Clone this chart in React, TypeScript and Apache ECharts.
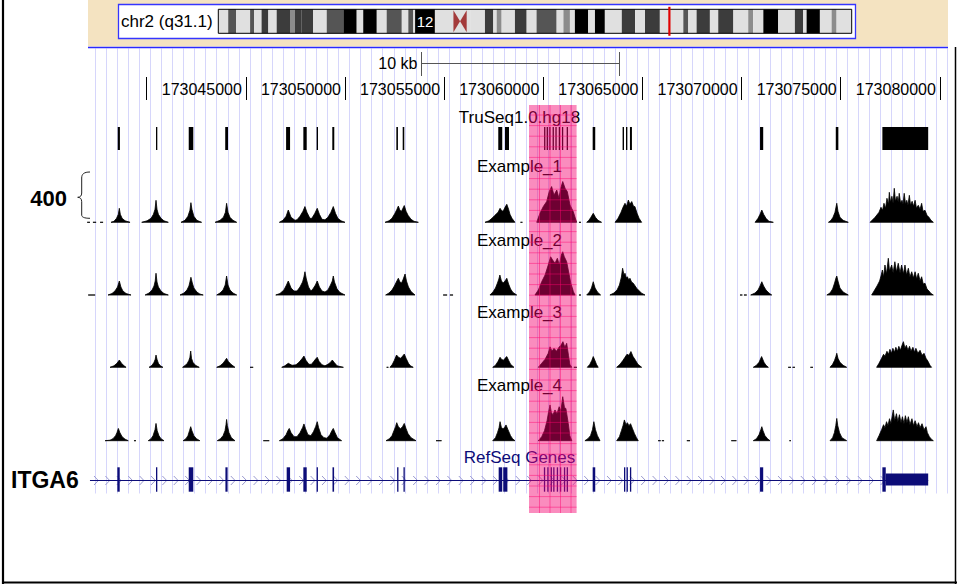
import React, { useEffect, useRef } from "react";
import * as echarts from "echarts";

const FONT = "'Liberation Sans', Arial, Helvetica, sans-serif";

// ---------------- genome view (kb offset from chr2:173,000,000) ----------------
const BASE_BP = 173000000;
const viewRangeKb = [37.0, 80.5];
const rulerTickKb = [40, 45, 50, 55, 60, 65, 70, 75, 80];
const rulerLabelKb = [45, 50, 55, 60, 65, 70, 75, 80];
const scaleBarKb = [53.83, 63.83];
const scaleBarText = "10 kb";
const highlightKb = [59.28, 61.68];
const trackTitles = ["TruSeq1.0.hg18", "Example_1", "Example_2", "Example_3", "Example_4", "RefSeq Genes"];
const signalScaleMax = 400;
const signalScaleLabel = "400";
const geneName = "ITGA6";

// ---------------- chromosome ideogram (Mb) ----------------
const chromLabel = "chr2 (q31.1)";
const chromLengthMb = 243;
// [start, end, shade 0=light 1=mid 2=dark 3=darker 4=black]
const chromBands: [number, number, number][] = [
  [0, 3.8, 0], [3.8, 6.8, 2], [6.8, 12.2, 0], [12.2, 13.7, 2], [13.7, 16.6, 0],
  [16.6, 19.2, 3], [19.2, 22.4, 0], [22.4, 27.5, 3], [27.5, 29.4, 1], [29.4, 32.0, 3],
  [32.0, 36.4, 3], [36.4, 41.6, 0], [41.6, 48.0, 2], [48.0, 53.1, 4], [53.1, 55.6, 0],
  [55.6, 60.8, 4], [60.8, 64.6, 0], [64.6, 70.4, 2], [70.4, 72.9, 0], [72.9, 74.8, 2],
  [74.8, 75.5, 0], [75.5, 83.1, 4], [83.1, 96.6, 0], [96.6, 102.3, 0], [102.3, 105.5, 3],
  [105.5, 106.8, 0], [106.8, 108.7, 1], [108.7, 113.8, 0], [113.8, 118.3, 3], [118.3, 122.1, 0],
  [122.1, 129.8, 2], [129.8, 132.4, 0], [132.4, 134.9, 1], [134.9, 136.8, 0], [136.8, 141.9, 4],
  [141.9, 144.5, 0], [144.5, 148.3, 4], [148.3, 154.8, 0], [154.8, 159.9, 3], [159.9, 163.7, 0],
  [163.7, 169.4, 3], [169.4, 178.4, 0], [178.4, 180.3, 2], [180.3, 183.5, 0], [183.5, 188.6, 3],
  [188.6, 191.8, 0], [191.8, 197.6, 3], [197.6, 203.3, 0], [203.3, 205.2, 1], [205.2, 209.1, 0],
  [209.1, 214.8, 4], [214.8, 221.2, 0], [221.2, 224.4, 3], [224.4, 225.7, 0], [225.7, 230.8, 4],
  [230.8, 235.3, 0], [235.3, 237.2, 1], [237.2, 243, 0],
];
const centromereMb = [90.2, 95.3];
const currentPosMb = 173.06;
const bandNameLabel = { text: "12", startMb: 75.5, endMb: 83.1 };

// ---------------- target regions / gene model (kb) ----------------
const truSeqTargets: [number, number][] = [
  [38.54, 38.65], [40.47, 40.53], [42.12, 42.35], [43.96, 44.10], [47.03, 47.23], [47.90, 48.07],
  [48.57, 48.64], [49.36, 49.46], [52.59, 52.67], [52.91, 52.99], [57.73, 57.93], [58.07, 58.27],
  [60.04, 60.10], [60.17, 60.23], [60.30, 60.36], [60.47, 60.53], [60.61, 60.67], [60.78, 60.84],
  [60.94, 61.00], [61.18, 61.24], [62.49, 62.62], [64.00, 64.07], [64.17, 64.24], [64.37, 64.47],
  [70.93, 71.09], [74.75, 74.88], [77.10, 79.41],
];
const geneSpanKb: [number, number] = [37.14, 79.41];
const refSeqExons: [number, number][] = [
  [38.52, 38.64], [40.47, 40.53], [42.12, 42.35], [43.97, 44.08], [47.06, 47.23], [47.90, 48.07],
  [48.57, 48.63], [49.37, 49.45], [52.63, 52.69], [52.95, 53.01], [57.75, 57.93], [57.98, 58.19],
  [60.03, 60.09], [60.20, 60.26], [60.37, 60.43], [60.50, 60.56], [60.68, 60.74], [60.84, 60.90],
  [61.04, 61.10], [61.18, 61.24], [62.49, 62.62], [64.07, 64.13], [64.20, 64.26], [64.37, 64.43],
  [70.93, 71.09], [77.10, 77.27],
];
const refSeqUtr: [number, number][] = [[77.27, 79.41]];

// ---------------- coverage tracks: segments of [kb, reads] ----------------
type Seg = [number, number][];
const example1: Seg[] = [
  [[37.00, 0], [37.14, 0]],
  [[37.29, 0], [37.45, 0]],
  [[37.65, 0], [37.80, 0]],
  [[38.20, 0], [38.35, 8], [38.48, 32], [38.57, 64], [38.62, 112], [38.67, 64], [38.76, 32], [38.91, 12], [39.16, 0]],
  [[39.75, 0], [40.02, 12], [40.22, 32], [40.34, 64], [40.42, 104], [40.47, 176], [40.52, 104], [40.59, 64], [40.72, 32], [40.87, 12], [41.09, 0]],
  [[41.73, 0], [41.93, 16], [42.08, 48], [42.18, 96], [42.23, 157], [42.28, 104], [42.38, 48], [42.53, 16], [42.77, 0]],
  [[43.45, 0], [43.70, 16], [43.87, 40], [43.97, 80], [44.03, 152], [44.10, 80], [44.20, 40], [44.35, 16], [44.54, 0]],
  [[46.69, 0], [46.87, 16], [47.03, 48], [47.14, 98], [47.28, 40], [47.48, 16], [47.58, 20], [47.73, 48], [47.88, 88], [47.98, 126], [48.08, 80], [48.23, 32], [48.33, 32], [48.48, 72], [48.60, 112], [48.71, 64], [48.84, 24], [48.99, 20], [49.14, 40], [49.29, 80], [49.41, 126], [49.52, 72], [49.64, 32], [49.80, 12], [50.00, 0]],
  [[52.02, 0], [52.22, 12], [52.37, 32], [52.52, 72], [52.62, 104], [52.69, 130], [52.77, 96], [52.85, 88], [52.92, 112], [52.99, 134], [53.08, 88], [53.18, 56], [53.33, 24], [53.48, 8], [53.70, 0]],
  [[57.06, 0], [57.26, 12], [57.41, 32], [57.56, 56], [57.72, 80], [57.82, 112], [57.92, 88], [58.00, 96], [58.07, 120], [58.16, 144], [58.25, 104], [58.32, 64], [58.42, 32], [58.57, 0]],
  [[58.85, 0], [58.95, 0]],
  [[59.67, 0], [59.83, 72], [60.00, 126], [60.17, 166], [60.30, 246], [60.42, 286], [60.54, 218], [60.68, 258], [60.79, 192], [60.88, 272], [60.98, 326], [61.10, 272], [61.21, 246], [61.35, 138], [61.51, 86], [61.68, 0]],
  [[61.80, 0], [61.90, 0]],
  [[62.19, 0], [62.30, 16], [62.40, 40], [62.52, 72], [62.63, 40], [62.76, 16], [62.94, 0]],
  [[63.62, 0], [63.77, 32], [63.92, 80], [64.02, 120], [64.12, 152], [64.20, 128], [64.29, 178], [64.37, 144], [64.46, 166], [64.55, 128], [64.62, 126], [64.73, 72], [64.83, 32], [64.96, 0]],
  [[70.68, 0], [70.83, 32], [70.93, 64], [71.02, 98], [71.11, 64], [71.23, 32], [71.38, 8], [71.60, 0]],
  [[74.38, 0], [74.51, 16], [74.61, 40], [74.71, 80], [74.80, 152], [74.86, 88], [74.96, 40], [75.12, 16], [75.38, 0]],
  [[76.48, 0], [76.73, 40], [76.93, 80], [77.03, 120], [77.11, 96], [77.18, 152], [77.26, 112], [77.33, 192], [77.41, 144], [77.45, 240], [77.51, 160], [77.58, 208], [77.64, 152], [77.70, 272], [77.76, 168], [77.84, 208], [77.90, 160], [77.95, 232], [78.02, 152], [78.09, 176], [78.14, 144], [78.20, 232], [78.27, 144], [78.33, 176], [78.39, 136], [78.46, 216], [78.52, 136], [78.60, 168], [78.67, 128], [78.75, 176], [78.82, 112], [78.91, 136], [79.00, 104], [79.08, 152], [79.15, 88], [79.25, 96], [79.35, 56], [79.45, 40], [79.55, 16], [79.67, 0]],
];
const example2: Seg[] = [
  [[37.05, 0], [37.40, 0]],
  [[38.05, 0], [38.25, 12], [38.40, 32], [38.53, 64], [38.62, 112], [38.70, 64], [38.80, 32], [38.96, 12], [39.21, 0]],
  [[39.92, 0], [40.12, 16], [40.27, 40], [40.37, 72], [40.43, 112], [40.47, 174], [40.52, 104], [40.59, 64], [40.72, 32], [40.87, 12], [41.09, 0]],
  [[41.68, 0], [41.88, 16], [42.03, 40], [42.13, 72], [42.18, 104], [42.23, 142], [42.30, 96], [42.38, 56], [42.53, 24], [42.68, 8], [42.85, 0]],
  [[43.53, 0], [43.70, 16], [43.85, 40], [43.96, 80], [44.03, 152], [44.10, 80], [44.20, 40], [44.35, 16], [44.54, 0]],
  [[46.51, 0], [46.72, 12], [46.92, 40], [47.05, 80], [47.14, 112], [47.28, 56], [47.43, 32], [47.58, 32], [47.73, 64], [47.86, 104], [47.93, 144], [47.98, 186], [48.05, 128], [48.16, 64], [48.28, 32], [48.38, 48], [48.51, 80], [48.60, 112], [48.71, 64], [48.84, 32], [48.99, 24], [49.14, 40], [49.27, 80], [49.36, 112], [49.41, 152], [49.47, 104], [49.60, 48], [49.75, 20], [50.00, 0]],
  [[52.05, 0], [52.22, 16], [52.37, 40], [52.49, 72], [52.59, 104], [52.69, 134], [52.77, 104], [52.85, 96], [52.92, 120], [53.03, 168], [53.10, 112], [53.20, 64], [53.33, 28], [53.53, 0]],
  [[54.95, 0], [55.15, 0]],
  [[55.29, 0], [55.45, 0]],
  [[57.31, 0], [57.46, 24], [57.59, 56], [57.69, 96], [57.76, 128], [57.81, 160], [57.89, 112], [57.98, 96], [58.07, 112], [58.16, 134], [58.25, 88], [58.35, 48], [58.47, 20], [58.66, 0]],
  [[59.58, 0], [59.75, 40], [59.92, 106], [60.09, 160], [60.25, 240], [60.37, 306], [60.47, 280], [60.59, 254], [60.71, 294], [60.81, 240], [60.91, 320], [60.98, 346], [61.06, 306], [61.18, 266], [61.26, 200], [61.39, 94], [61.52, 26], [61.60, 0]],
  [[61.80, 0], [61.90, 0]],
  [[62.19, 0], [62.33, 24], [62.43, 56], [62.52, 106], [62.61, 56], [62.73, 24], [62.89, 0]],
  [[63.36, 0], [63.56, 16], [63.72, 40], [63.84, 80], [63.94, 144], [64.00, 214], [64.07, 160], [64.12, 174], [64.19, 136], [64.24, 146], [64.31, 120], [64.37, 134], [64.45, 104], [64.54, 94], [64.71, 54], [64.96, 14], [65.13, 0]],
  [[69.92, 0], [70.04, 0]],
  [[70.12, 0], [70.26, 0]],
  [[70.46, 0], [70.68, 16], [70.83, 40], [70.93, 72], [71.02, 106], [71.11, 72], [71.23, 40], [71.38, 16], [71.52, 0]],
  [[74.30, 0], [74.46, 16], [74.59, 48], [74.69, 96], [74.76, 136], [74.80, 152], [74.86, 112], [74.96, 56], [75.12, 24], [75.38, 0]],
  [[76.56, 0], [76.68, 32], [76.83, 72], [76.96, 112], [77.03, 152], [77.10, 200], [77.16, 144], [77.23, 240], [77.31, 168], [77.40, 294], [77.46, 192], [77.57, 240], [77.64, 176], [77.73, 266], [77.81, 184], [77.90, 254], [77.99, 176], [78.07, 240], [78.16, 168], [78.24, 240], [78.32, 160], [78.41, 214], [78.49, 144], [78.58, 186], [78.66, 136], [78.75, 186], [78.83, 128], [78.91, 174], [79.00, 112], [79.08, 146], [79.16, 88], [79.25, 94], [79.35, 48], [79.45, 32], [79.55, 12], [79.67, 0]],
];
const example3: Seg[] = [
  [[38.15, 0], [38.35, 12], [38.50, 32], [38.62, 58], [38.73, 32], [38.86, 12], [38.96, 0]],
  [[40.12, 0], [40.27, 16], [40.37, 40], [40.43, 64], [40.47, 98], [40.52, 64], [40.59, 32], [40.69, 12], [40.82, 0]],
  [[41.81, 0], [41.95, 16], [42.05, 32], [42.13, 56], [42.18, 80], [42.22, 130], [42.26, 72], [42.33, 40], [42.46, 16], [42.65, 0]],
  [[43.53, 0], [43.70, 12], [43.85, 32], [43.96, 56], [44.03, 72], [44.11, 48], [44.25, 24], [44.45, 0]],
  [[45.21, 0], [45.37, 0]],
  [[46.81, 0], [46.97, 12], [47.14, 32], [47.33, 16], [47.53, 20], [47.68, 40], [47.83, 68], [47.93, 90], [48.03, 56], [48.18, 24], [48.31, 24], [48.43, 48], [48.53, 68], [48.60, 80], [48.69, 48], [48.84, 20], [48.99, 12], [49.14, 24], [49.27, 40], [49.36, 58], [49.45, 40], [49.60, 12], [49.92, 0]],
  [[52.10, 0], [52.19, 0]],
  [[52.27, 0], [52.39, 24], [52.49, 56], [52.60, 98], [52.70, 80], [52.80, 72], [52.90, 88], [52.99, 106], [53.08, 72], [53.20, 32], [53.30, 12], [53.44, 0]],
  [[57.45, 0], [57.59, 16], [57.72, 48], [57.82, 80], [57.89, 64], [57.99, 56], [58.07, 72], [58.16, 86], [58.25, 56], [58.35, 24], [58.52, 0]],
  [[59.75, 0], [59.92, 32], [60.09, 64], [60.25, 112], [60.34, 164], [60.44, 128], [60.54, 152], [60.67, 128], [60.79, 160], [60.89, 176], [60.99, 205], [61.09, 160], [61.18, 192], [61.27, 96], [61.34, 24], [61.44, 0]],
  [[61.54, 0], [61.69, 0]],
  [[62.22, 0], [62.35, 24], [62.45, 56], [62.52, 86], [62.60, 56], [62.68, 24], [62.77, 0]],
  [[63.70, 0], [63.87, 24], [64.02, 56], [64.12, 80], [64.22, 104], [64.32, 96], [64.42, 126], [64.52, 88], [64.65, 56], [64.77, 24], [64.96, 0]],
  [[70.59, 0], [70.75, 16], [70.88, 40], [71.01, 86], [71.13, 40], [71.23, 16], [71.35, 0]],
  [[72.35, 0], [72.49, 0]],
  [[72.57, 0], [72.69, 0]],
  [[73.47, 0], [73.60, 0]],
  [[74.46, 0], [74.59, 24], [74.69, 56], [74.76, 88], [74.80, 112], [74.86, 72], [74.96, 40], [75.12, 16], [75.30, 0]],
  [[76.81, 0], [76.93, 32], [77.06, 72], [77.16, 104], [77.23, 88], [77.33, 128], [77.41, 104], [77.48, 144], [77.56, 112], [77.63, 152], [77.71, 120], [77.78, 160], [77.86, 128], [77.93, 168], [78.01, 136], [78.09, 176], [78.16, 205], [78.24, 152], [78.31, 176], [78.39, 136], [78.47, 168], [78.54, 128], [78.64, 160], [78.72, 120], [78.79, 152], [78.89, 112], [79.00, 136], [79.10, 96], [79.20, 112], [79.30, 72], [79.40, 48], [79.50, 16], [79.58, 0]],
];
const example4: Seg[] = [
  [[37.90, 0], [38.15, 4], [38.30, 16], [38.43, 40], [38.50, 64], [38.57, 98], [38.65, 64], [38.76, 32], [38.91, 12], [39.07, 0]],
  [[39.36, 0], [39.46, 0]],
  [[40.08, 0], [40.22, 16], [40.32, 40], [40.42, 88], [40.47, 138], [40.53, 80], [40.62, 40], [40.72, 16], [40.87, 0]],
  [[41.84, 0], [41.98, 16], [42.08, 40], [42.16, 80], [42.22, 112], [42.28, 80], [42.38, 40], [42.51, 16], [42.68, 0]],
  [[43.56, 0], [43.72, 16], [43.85, 40], [43.95, 80], [44.00, 128], [44.03, 170], [44.07, 120], [44.15, 64], [44.27, 24], [44.45, 0]],
  [[45.88, 0], [46.18, 0]],
  [[46.69, 0], [46.87, 16], [47.03, 48], [47.12, 80], [47.19, 98], [47.28, 64], [47.43, 32], [47.58, 32], [47.73, 64], [47.86, 104], [47.93, 134], [48.01, 96], [48.13, 48], [48.28, 40], [48.41, 72], [48.52, 112], [48.60, 152], [48.67, 104], [48.79, 48], [48.94, 24], [49.09, 20], [49.24, 48], [49.34, 80], [49.41, 98], [49.50, 64], [49.62, 24], [49.83, 0]],
  [[52.07, 0], [52.24, 16], [52.37, 40], [52.47, 80], [52.55, 112], [52.61, 144], [52.69, 112], [52.80, 96], [52.90, 112], [52.99, 138], [53.08, 96], [53.18, 56], [53.33, 24], [53.58, 0]],
  [[54.59, 0], [54.87, 0]],
  [[57.45, 0], [57.59, 24], [57.69, 64], [57.77, 104], [57.82, 152], [57.89, 104], [57.97, 96], [58.04, 104], [58.12, 126], [58.22, 88], [58.35, 40], [58.45, 16], [58.57, 0]],
  [[59.75, 0], [59.92, 32], [60.06, 80], [60.19, 160], [60.26, 224], [60.34, 286], [60.41, 224], [60.49, 208], [60.59, 246], [60.69, 216], [60.80, 272], [60.89, 240], [60.98, 352], [61.07, 264], [61.14, 258], [61.26, 138], [61.34, 40], [61.44, 0]],
  [[62.10, 0], [62.25, 16], [62.38, 40], [62.48, 88], [62.55, 152], [62.63, 88], [62.73, 40], [62.86, 0]],
  [[63.70, 0], [63.84, 32], [63.94, 80], [64.02, 120], [64.09, 166], [64.17, 128], [64.24, 144], [64.32, 120], [64.40, 136], [64.50, 96], [64.60, 56], [64.70, 24], [64.79, 0]],
  [[65.79, 0], [65.92, 0]],
  [[65.98, 0], [66.09, 0]],
  [[67.24, 0], [67.40, 0]],
  [[69.48, 0], [69.74, 0]],
  [[70.59, 0], [70.75, 16], [70.88, 48], [70.97, 88], [71.02, 112], [71.08, 80], [71.18, 40], [71.31, 16], [71.43, 0]],
  [[72.41, 0], [72.49, 0]],
  [[74.46, 0], [74.59, 24], [74.68, 64], [74.75, 120], [74.80, 178], [74.85, 120], [74.94, 64], [75.06, 24], [75.30, 0]],
  [[76.81, 0], [76.93, 40], [77.06, 88], [77.16, 128], [77.23, 104], [77.31, 152], [77.38, 120], [77.46, 176], [77.53, 136], [77.65, 246], [77.72, 160], [77.81, 216], [77.88, 152], [77.96, 208], [78.04, 144], [78.11, 192], [78.19, 136], [78.26, 200], [78.34, 144], [78.41, 192], [78.49, 128], [78.59, 176], [78.67, 120], [78.75, 160], [78.85, 112], [78.92, 144], [79.00, 104], [79.10, 136], [79.20, 88], [79.30, 112], [79.37, 64], [79.47, 32], [79.57, 12], [79.67, 0]],
];
const signalTracks = [example1, example2, example3, example4];

// ---------------- layout / style ----------------
const PLOT_LEFT = 87.2;
const PLOT_RIGHT = 9.2;
const SIGNAL_BASELINES = [222.3, 295, 367.3, 440.7];
const SIGNAL_HEIGHT = 50;
const LABEL_Y = [117, 166.5, 240.5, 312.5, 385.5, 457.5];
const LABEL_X = 519.5;
const NAVY = "#0c0c78";
const SHADES = ["#e0e0e0", "#8c8c8c", "#555555", "#3c3c3c", "#000000"];

function buildOption() {
  const grids: any[] = [];
  const xAxes: any[] = [];
  const yAxes: any[] = [];
  const series: any[] = [];

  const addGrid = (g: any, x: any, y: any) => {
    const i = grids.length;
    grids.push(g);
    xAxes.push({ gridIndex: i, type: "value", ...x });
    yAxes.push({ gridIndex: i, type: "value", ...y });
    return i;
  };
  const hiddenX = { min: viewRangeKb[0], max: viewRangeKb[1], show: false };
  const hiddenY01 = { min: 0, max: 1, show: false };

  // 0: ideogram
  const gIdeo = addGrid({ left: 218.3, top: 9.3, width: 633.4, height: 24 }, { min: 0, max: chromLengthMb, show: false }, hiddenY01);
  // 1: guide lines
  const gGuide = addGrid(
    { left: 95, top: 48.5, width: 852, height: 445 },
    { min: 0, max: 77, interval: 1, axisLine: { show: false }, axisTick: { show: false }, axisLabel: { show: false },
      splitLine: { show: true, lineStyle: { color: "#d6d6fb", width: 1 } } },
    { min: 0, max: 1, show: false }
  );
  // 2: ruler
  const gRuler = addGrid(
    { left: PLOT_LEFT, right: PLOT_RIGHT, top: 50, height: 50 },
    {
      min: viewRangeKb[0], max: viewRangeKb[1], position: "bottom",
      axisLine: { show: false },
      splitLine: { show: false },
      axisTick: { show: true, inside: true, length: 23, customValues: rulerTickKb, lineStyle: { color: "#000", width: 1 } },
      axisLabel: {
        show: true, inside: true, margin: 11, customValues: rulerLabelKb, align: "right", verticalAlign: "middle",
        padding: [0, 4, 0, 0], fontSize: 16, color: "#000", fontFamily: FONT,
        formatter: (v: number) => String(Math.round(BASE_BP + v * 1000)),
      },
    },
    hiddenY01
  );
  // 3: TruSeq targets
  const gTru = addGrid({ left: PLOT_LEFT, right: PLOT_RIGHT, top: 127, height: 23 }, hiddenX, hiddenY01);
  // 4..7 coverage
  const gSig = SIGNAL_BASELINES.map((b) =>
    addGrid({ left: PLOT_LEFT, right: PLOT_RIGHT, top: b - SIGNAL_HEIGHT, height: SIGNAL_HEIGHT }, hiddenX, { min: 0, max: signalScaleMax, show: false })
  );
  // 8: RefSeq
  const gRef = addGrid({ left: PLOT_LEFT, right: PLOT_RIGHT, top: 467.3, height: 24.4 }, hiddenX, hiddenY01);
  // 9: highlight
  const gHi = addGrid({ left: PLOT_LEFT, right: PLOT_RIGHT, top: 105, height: 408 }, hiddenX, hiddenY01);

  const rectBetween = (api: any, x0: number, x1: number, y0: number, y1: number, minW = 1) => {
    const a = api.coord([x0, y1]);
    const b = api.coord([x1, y0]);
    return { x: a[0], y: a[1], width: Math.max(b[0] - a[0], minW), height: b[1] - a[1] };
  };

  // ideogram bands
  series.push({
    type: "custom", xAxisIndex: gIdeo, yAxisIndex: gIdeo, z: 3, silent: true,
    data: chromBands.map((b) => [b[0], b[1], b[2]]),
    renderItem: (_p: any, api: any) => ({
      type: "rect",
      shape: rectBetween(api, api.value(0), api.value(1), 0, 1),
      style: { fill: SHADES[api.value(2)] },
    }),
  });
  // ideogram centromere
  series.push({
    type: "custom", xAxisIndex: gIdeo, yAxisIndex: gIdeo, z: 4, silent: true,
    data: [[centromereMb[0], centromereMb[1]]],
    renderItem: (_p: any, api: any) => {
      const a = api.coord([api.value(0), 1]);
      const b = api.coord([api.value(1), 0]);
      const mx = (a[0] + b[0]) / 2, my = (a[1] + b[1]) / 2;
      return {
        type: "group",
        children: [
          { type: "rect", shape: { x: a[0], y: a[1], width: b[0] - a[0], height: b[1] - a[1] }, style: { fill: SHADES[0] } },
          { type: "polygon", shape: { points: [[a[0], a[1] + 1], [mx, my], [a[0], b[1] - 1]] }, style: { fill: "#a33a3a" } },
          { type: "polygon", shape: { points: [[b[0], a[1] + 1], [mx, my], [b[0], b[1] - 1]] }, style: { fill: "#a33a3a" } },
        ],
      };
    },
  });
  // ideogram outline
  series.push({
    type: "custom", xAxisIndex: gIdeo, yAxisIndex: gIdeo, z: 5, silent: true,
    data: [[0, chromLengthMb]],
    renderItem: (_p: any, api: any) => ({
      type: "rect",
      shape: rectBetween(api, api.value(0), api.value(1), 0, 1),
      style: { fill: "none", stroke: "#000", lineWidth: 1 },
    }),
  });
  // band name
  series.push({
    type: "custom", xAxisIndex: gIdeo, yAxisIndex: gIdeo, z: 6, silent: true,
    data: [[bandNameLabel.startMb, bandNameLabel.endMb]],
    renderItem: (_p: any, api: any) => {
      const a = api.coord([(api.value(0) + api.value(1)) / 2, 0.5]);
      return { type: "text", style: { x: a[0], y: a[1] + 0.5, text: bandNameLabel.text, fill: "#fff", fontSize: 15, fontFamily: FONT, align: "center", verticalAlign: "middle" } };
    },
  });
  // current position marker
  series.push({
    type: "custom", xAxisIndex: gIdeo, yAxisIndex: gIdeo, z: 7, silent: true,
    data: [[currentPosMb]],
    renderItem: (_p: any, api: any) => {
      const a = api.coord([api.value(0), 1]);
      const b = api.coord([api.value(0), 0]);
      return { type: "line", shape: { x1: a[0], y1: a[1] - 2.5, x2: b[0], y2: b[1] + 2.5 }, style: { stroke: "#e00000", lineWidth: 2.2 } };
    },
  });

  // guide grid placeholder series
  series.push({ type: "custom", xAxisIndex: gGuide, yAxisIndex: gGuide, data: [], renderItem: () => null });

  // scale bar
  series.push({
    type: "custom", xAxisIndex: gRuler, yAxisIndex: gRuler, z: 5, silent: true,
    data: [[scaleBarKb[0], scaleBarKb[1]]],
    renderItem: (p: any, api: any) => {
      const top = p.coordSys.y;
      const a = Math.round(api.coord([api.value(0), 0])[0]) + 0.5;
      const b = Math.round(api.coord([api.value(1), 0])[0]) + 0.5;
      const yb = top + 13.5;
      const st = { stroke: "#555", lineWidth: 1 };
      return {
        type: "group",
        children: [
          { type: "line", shape: { x1: a, y1: yb, x2: b, y2: yb }, style: st },
          { type: "line", shape: { x1: a, y1: top + 2, x2: a, y2: top + 26 }, style: st },
          { type: "line", shape: { x1: b, y1: top + 2, x2: b, y2: top + 26 }, style: st },
          { type: "text", style: { x: a - 4, y: yb, text: scaleBarText, fill: "#000", fontSize: 16, fontFamily: FONT, align: "right", verticalAlign: "middle" } },
        ],
      };
    },
  });

  // TruSeq targets
  series.push({
    type: "custom", xAxisIndex: gTru, yAxisIndex: gTru, z: 5, silent: true,
    data: truSeqTargets.map((t) => [t[0], t[1]]),
    renderItem: (_p: any, api: any) => ({
      type: "rect", shape: rectBetween(api, api.value(0), api.value(1), 0, 1, 1.3), style: { fill: "#000" },
    }),
  });

  // coverage tracks
  signalTracks.forEach((track, ti) => {
    series.push({
      type: "custom", xAxisIndex: gSig[ti], yAxisIndex: gSig[ti], z: 5, silent: true,
      data: track.map((seg, si) => [seg[0][0], seg[seg.length - 1][0], si]),
      renderItem: (_p: any, api: any) => {
        const seg = track[api.value(2)];
        const pts = seg.map(([x, v]) => api.coord([x, v]));
        return { type: "polygon", shape: { points: pts }, style: { fill: "#000", stroke: "#000", lineWidth: 0.8 } };
      },
    });
  });

  // RefSeq gene line with strand chevrons
  series.push({
    type: "custom", xAxisIndex: gRef, yAxisIndex: gRef, z: 4, silent: true,
    data: [[geneSpanKb[0], geneSpanKb[1]]],
    renderItem: (_p: any, api: any) => {
      const a = api.coord([api.value(0), 0.5]);
      const b = api.coord([api.value(1), 0.5]);
      const y = Math.round(a[1]) + 0.5;
      const children: any[] = [];
      for (let x = 96.5; x < b[0] - 4; x += 11.4) {
        children.push({ type: "polyline", shape: { points: [[x - 2.5, y - 4.5], [x + 1.8, y], [x - 2.5, y + 4.5]] }, style: { stroke: "#9a9ad0", lineWidth: 1, fill: "none" } });
      }
      children.push({ type: "line", shape: { x1: a[0], y1: y, x2: b[0], y2: y }, style: { stroke: NAVY, lineWidth: 1 } });
      return { type: "group", children };
    },
  });
  series.push({
    type: "custom", xAxisIndex: gRef, yAxisIndex: gRef, z: 5, silent: true,
    data: refSeqExons.map((t) => [t[0], t[1]]),
    renderItem: (_p: any, api: any) => ({
      type: "rect", shape: rectBetween(api, api.value(0), api.value(1), 0, 1, 1.3), style: { fill: NAVY },
    }),
  });
  series.push({
    type: "custom", xAxisIndex: gRef, yAxisIndex: gRef, z: 5, silent: true,
    data: refSeqUtr.map((t) => [t[0], t[1]]),
    renderItem: (_p: any, api: any) => ({
      type: "rect", shape: rectBetween(api, api.value(0), api.value(1), 0.255, 0.745, 1.3), style: { fill: NAVY },
    }),
  });

  // highlight
  series.push({
    type: "custom", xAxisIndex: gHi, yAxisIndex: gHi, z: 20, silent: true,
    data: [[highlightKb[0], highlightKb[1]]],
    renderItem: (_p: any, api: any) => {
      const r = rectBetween(api, api.value(0), api.value(1), 0, 1);
      const children: any[] = [{ type: "rect", shape: r, style: { fill: "rgba(244,0,111,0.45)" } }];
      for (let x = r.x + 10.5; x < r.x + r.width - 1; x += 10.5) {
        children.push({ type: "line", shape: { x1: x, y1: r.y, x2: x, y2: r.y + r.height }, style: { stroke: "rgba(255,0,110,0.45)", lineWidth: 1 } });
      }
      for (let y = r.y + 10; y < r.y + r.height - 1; y += 10.6) {
        children.push({ type: "line", shape: { x1: r.x, y1: y, x2: r.x + r.width, y2: y }, style: { stroke: "rgba(255,0,110,0.45)", lineWidth: 1 } });
      }
      return { type: "group", children };
    },
  });

  const labelEls = trackTitles.map((t, i) => ({
    type: "text", z: 3, silent: true, x: LABEL_X, y: LABEL_Y[i],
    style: { text: t, fill: i === 5 ? NAVY : "#000", fontSize: 17, fontFamily: FONT, align: "center", verticalAlign: "middle" },
  }));

  const graphic = [
    { type: "rect", z: 0, silent: true, shape: { x: 88, y: 0, width: 860, height: 46.5 }, style: { fill: "#f4e3c1" } },
    { type: "line", z: 1, silent: true, shape: { x1: 88, y1: 47.5, x2: 948, y2: 47.5 }, style: { stroke: "#2a2aff", lineWidth: 1.5 } },
    { type: "rect", z: 1, silent: true, shape: { x: 118.5, y: 4.5, width: 737, height: 34 }, style: { fill: "#fff", stroke: "#3535ff", lineWidth: 1.3 } },
    { type: "text", z: 3, silent: true, x: 121, y: 21.5, style: { text: chromLabel, fill: "#000", fontSize: 17, fontFamily: FONT, align: "left", verticalAlign: "middle" } },
    ...labelEls,
    { type: "text", z: 3, silent: true, x: 67, y: 198.5, style: { text: signalScaleLabel, fill: "#000", fontSize: 22, fontWeight: "bold", fontFamily: FONT, align: "right", verticalAlign: "middle" } },
    { type: "brace", z: 3, silent: true, x: 77, y: 171, style: { fill: "none", stroke: "#222", lineWidth: 1 } },
    { type: "text", z: 3, silent: true, x: 11, y: 479.5, style: { text: geneName, fill: "#000", fontSize: 23, fontWeight: "bold", fontFamily: FONT, align: "left", verticalAlign: "middle" } },
    { type: "line", z: 3, silent: true, shape: { x1: 3, y1: 0, x2: 3, y2: 584 }, style: { stroke: "#000", lineWidth: 2.2 } },
    { type: "line", z: 3, silent: true, shape: { x1: 2, y1: 582.5, x2: 957, y2: 582.5 }, style: { stroke: "#000", lineWidth: 2 } },
    { type: "line", z: 3, silent: true, shape: { x1: 955.5, y1: 47, x2: 955.5, y2: 584 }, style: { stroke: "#000", lineWidth: 1.5 } },
  ];

  return {
    animation: false,
    backgroundColor: "#ffffff",
    textStyle: { fontFamily: FONT },
    grid: grids,
    xAxis: xAxes,
    yAxis: yAxes,
    series,
    graphic: { elements: graphic },
  };
}

let braceRegistered = false;
function registerBrace() {
  if (braceRegistered) return;
  braceRegistered = true;
  echarts.graphic.registerShape(
    "brace",
    echarts.graphic.extendPath(
      "M13 1 C7 1 4.7 3 4.7 7 L4.7 22 C4.7 25 3 26.3 0.7 26.3 C3 26.3 4.7 27.6 4.7 30.7 L4.7 44 C4.7 46 7 47.3 13 47.3",
      {}
    ) as any
  );
}

export default function App() {
  const ref = useRef<HTMLDivElement>(null);
  useEffect(() => {
    if (!ref.current) return;
    registerBrace();
    const chart = echarts.init(ref.current, undefined, { renderer: "svg", width: 959, height: 584 });
    chart.setOption(buildOption() as any);
    return () => chart.dispose();
  }, []);
  return (
    <div style={{ position: "fixed", left: 0, top: 0, width: 959, height: 584, background: "#fff" }}>
      <div ref={ref} style={{ width: 959, height: 584 }} />
    </div>
  );
}
